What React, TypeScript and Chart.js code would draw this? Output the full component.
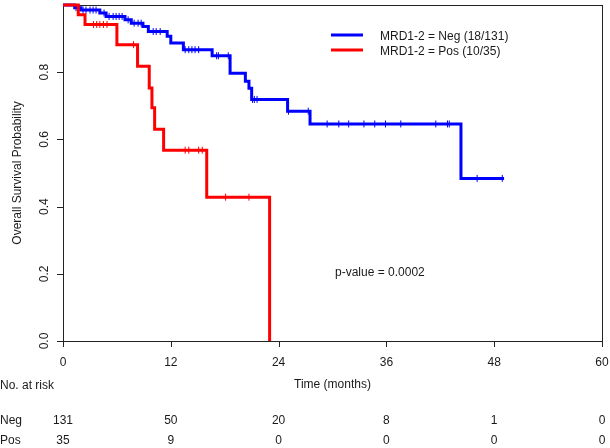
import React, { useEffect, useRef } from "react";
import { Chart, registerables } from "chart.js";

Chart.register(...registerables);

// Kaplan-Meier step data (time in months, survival probability)
const negTimes = [0, 1.3, 2.0, 4.1, 4.8, 6.9, 7.6, 8.9, 9.5, 11.6, 12.0, 13.4, 16.6, 18.6, 20.3, 20.7, 21.0, 25.0, 27.5, 44.3, 49.1];
const negSurv = [1, 0.992, 0.985, 0.976, 0.966, 0.956, 0.946, 0.936, 0.921, 0.907, 0.887, 0.867, 0.849, 0.797, 0.773, 0.752, 0.719, 0.684, 0.646, 0.484, 0.484];
const negCensor = [1.45, 1.78, 2.23, 2.56, 3.01, 3.35, 3.68, 4.57, 5.13, 5.58, 5.91, 6.25, 6.58, 7.25, 7.92, 8.36, 8.7, 10.04, 10.37, 10.82, 13.6, 14.0, 14.35, 14.7, 15.1, 17.1, 17.3, 18.4, 21.1, 21.3, 21.6, 25.1, 27.3, 29.4, 30.7, 31.8, 33.5, 34.7, 35.9, 37.6, 41.5, 42.8, 43.0, 46.1, 48.9];

const posTimes = [0, 1.7, 2.45, 6.0, 8.3, 9.6, 9.9, 10.2, 11.2, 16.0, 23.0];
const posSurv = [1, 0.971, 0.942, 0.882, 0.818, 0.753, 0.694, 0.63, 0.568, 0.428, 0];
const posCensor = [3.4, 3.75, 4.1, 4.5, 4.9, 7.85, 13.6, 14.0, 15.1, 15.5, 18.1, 20.7];

const xTicks = [0, 12, 24, 36, 48, 60];
const yTicks = [0, 0.2, 0.4, 0.6, 0.8];
const riskNeg = [131, 50, 20, 8, 1, 0];
const riskPos = [35, 9, 0, 0, 0, 0];
const legendLabels = ["MRD1-2 = Neg (18/131)", "MRD1-2 = Pos (10/35)"];
const pValueText = "p-value = 0.0002";

const BLUE = "#0000ff";
const RED = "#ff0000";
const FONT = '12px "Liberation Sans", Arial, sans-serif';
const TXT = "#1a1a1a";

function levelAt(times: number[], surv: number[], t: number) {
  let s = surv[0];
  for (let i = 0; i < times.length; i++) {
    if (times[i] <= t) s = surv[i];
  }
  return s;
}

const overlay = {
  id: "overlay",
  beforeDatasetsDraw(chart: any) {
    const { ctx, chartArea, scales } = chart;
    const xs = scales.x;
    const ys = scales.y;
    ctx.save();
    ctx.strokeStyle = "#222";
    ctx.lineWidth = 1;
    ctx.strokeRect(Math.round(chartArea.left) + 0.5, Math.round(chartArea.top) + 0.5,
      Math.round(chartArea.right - chartArea.left), Math.round(chartArea.bottom - chartArea.top));
    ctx.beginPath();
    xTicks.forEach((v) => {
      const px = Math.round(xs.getPixelForValue(v)) + 0.5;
      ctx.moveTo(px, chartArea.bottom);
      ctx.lineTo(px, chartArea.bottom + 6);
    });
    yTicks.forEach((v) => {
      const py = Math.round(ys.getPixelForValue(v)) + 0.5;
      ctx.moveTo(chartArea.left, py);
      ctx.lineTo(chartArea.left - 6, py);
    });
    ctx.stroke();
    ctx.restore();
  },
  afterDraw(chart: any) {
    const { ctx, chartArea, scales } = chart;
    const xs = scales.x;
    const ys = scales.y;
    ctx.save();
    ctx.fillStyle = TXT;
    ctx.font = FONT;
    ctx.textBaseline = "middle";
    ctx.textAlign = "center";
    xTicks.forEach((v) => {
      ctx.fillText(String(v), xs.getPixelForValue(v), 363);
    });
    yTicks.forEach((v) => {
      ctx.save();
      ctx.translate(45, ys.getPixelForValue(v));
      ctx.rotate(-Math.PI / 2);
      ctx.fillText(v.toFixed(1), 0, 0);
      ctx.restore();
    });
    ctx.save();
    ctx.translate(18, (chartArea.top + chartArea.bottom) / 2);
    ctx.rotate(-Math.PI / 2);
    ctx.fillText("Overall Survival Probability", 0, 0);
    ctx.restore();
    ctx.fillText("Time (months)", (chartArea.left + chartArea.right) / 2, 385);
    ctx.textAlign = "left";
    ctx.fillText("No. at risk", 0, 386);
    ctx.fillText("Neg", 0, 421);
    ctx.fillText("Pos", 0, 441);
    ctx.textAlign = "center";
    xTicks.forEach((v, i) => {
      const px = xs.getPixelForValue(v);
      ctx.fillText(String(riskNeg[i]), px, 421);
      ctx.fillText(String(riskPos[i]), px, 441);
    });
    ctx.lineWidth = 3;
    [BLUE, RED].forEach((c, i) => {
      const y = 35 + i * 15;
      ctx.strokeStyle = c;
      ctx.beginPath();
      ctx.moveTo(331, y);
      ctx.lineTo(363, y);
      ctx.stroke();
      ctx.textAlign = "left";
      ctx.fillText(legendLabels[i], 380, y + 2);
    });
    ctx.fillText(pValueText, 335, 273);
    ctx.restore();
  },
};

export default function App() {
  const ref = useRef<HTMLCanvasElement | null>(null);
  useEffect(() => {
    if (!ref.current) return;
    const negLine = negTimes.map((t, i) => ({ x: t, y: negSurv[i] }));
    const posLine = posTimes.map((t, i) => ({ x: t, y: posSurv[i] }));
    const negMarks = negCensor.map((t) => ({ x: t, y: levelAt(negTimes, negSurv, t) }));
    const posMarks = posCensor.map((t) => ({ x: t, y: levelAt(posTimes, posSurv, t) }));
    const chart = new Chart(ref.current, {
      type: "scatter",
      data: {
        datasets: [
          { data: posMarks, showLine: false, pointStyle: "line", rotation: 90, radius: 3.5, borderColor: RED, borderWidth: 1, order: 0, clip: false } as any,
          { data: posLine, showLine: true, stepped: "before", borderColor: RED, borderWidth: 3, pointRadius: 0, order: 1, clip: false } as any,
          { data: negMarks, showLine: false, pointStyle: "line", rotation: 90, radius: 3.5, borderColor: BLUE, borderWidth: 1, order: 2, clip: false } as any,
          { data: negLine, showLine: true, stepped: "before", borderColor: BLUE, borderWidth: 3, pointRadius: 0, order: 3, clip: false } as any,
        ],
      },
      options: {
        animation: false,
        responsive: false,
        maintainAspectRatio: false,
        events: [],
        layout: { padding: { left: 63, right: 8, top: 4, bottom: 107 } },
        plugins: { legend: { display: false }, tooltip: { enabled: false } },
        scales: {
          x: { type: "linear", min: 0, max: 60, display: false },
          y: { type: "linear", min: 0, max: 1, display: false },
        },
      },
      plugins: [overlay],
    });
    return () => chart.destroy();
  }, []);
  return (
    <div style={{ position: "absolute", left: 0, top: 0, width: 610, height: 448, background: "#fff" }}>
      <canvas ref={ref} width={610} height={448} style={{ width: 610, height: 448, display: "block" }} />
    </div>
  );
}
